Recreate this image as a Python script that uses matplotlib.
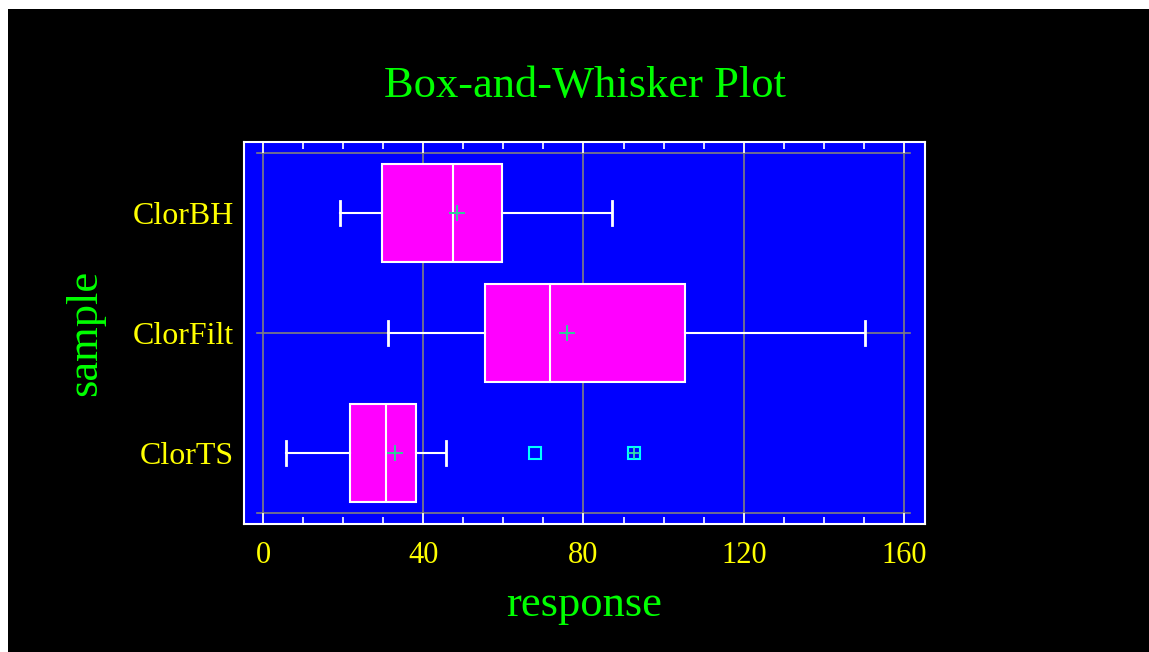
import matplotlib
matplotlib.use("Agg")
import matplotlib.pyplot as plt
import matplotlib.patches as patches
from matplotlib.ticker import MultipleLocator

# samples, bottom to top as drawn
samples = ["ClorTS", "ClorFilt", "ClorBH"]
whisker_lo = [5.7, 31.2, 19.1]
q1 = [21.7, 55.4, 29.7]
medians = [30.7, 71.6, 47.4]
q3 = [38.1, 105.3, 59.6]
whisker_hi = [45.7, 150.3, 87.1]
means = [33.0, 75.9, 48.3]
# outside points (ClorTS only)
outside_pts = [67.9]
far_outside_pts = [92.7]

serif = "Liberation Serif"

fig = plt.figure(figsize=(11.49, 6.52), dpi=100, facecolor="white")
# black background with the thin white margin top/left
fig.patches.append(patches.Rectangle((8 / 1149, 0), 1, 1 - 9 / 652, transform=fig.transFigure,
                                     facecolor="black", edgecolor="none", zorder=-10))

ax = fig.add_axes([244 / 1149, (652 - 524) / 652, (925 - 244) / 1149, (524 - 142) / 652])
ax.set_facecolor("#0000FF")

pos = [1, 2, 3]
stats = []
for i in range(len(samples)):
    stats.append(dict(label=samples[i], whislo=whisker_lo[i], q1=q1[i], med=medians[i],
                      q3=q3[i], whishi=whisker_hi[i], mean=means[i], fliers=[]))

ax.bxp(stats, positions=pos, widths=0.81, orientation="horizontal", patch_artist=True,
       showmeans=False, showfliers=False,
       boxprops=dict(facecolor="#FF00FF", edgecolor="white", linewidth=1.5),
       medianprops=dict(color="white", linewidth=1.5),
       whiskerprops=dict(color="white", linewidth=1.5),
       capprops=dict(color="white", linewidth=2.0),
       capwidths=0.2, zorder=3)

# mean markers
ax.plot(means, pos, linestyle="none", marker="+", markersize=11, markeredgewidth=1.4,
        color="#33CC99", zorder=5)

# outside points for ClorTS
ax.plot(outside_pts, [1] * len(outside_pts), linestyle="none", marker="s", markersize=8,
        markerfacecolor="none", markeredgecolor="#00FFFF", markeredgewidth=1.5, zorder=5)
ax.plot(far_outside_pts, [1] * len(far_outside_pts), linestyle="none", marker="s", markersize=8,
        markerfacecolor="none", markeredgecolor="#00FFFF", markeredgewidth=1.5, zorder=5)
ax.plot(far_outside_pts, [1] * len(far_outside_pts), linestyle="none", marker="+", markersize=9,
        markeredgewidth=1.3, color="#33DDAA", zorder=6)

ax.set_xlim(-4.75, 165.25)
ax.set_ylim(0.41, 3.59)

# grid lines (partial frame like the original)
for gx in [0, 40, 80, 120, 160]:
    ax.plot([gx, gx], [0.41, 3.59], color="#808080", linewidth=1.2, zorder=1)
for gy in [0.5, 2, 3.5]:
    ax.plot([-1.5, 161.5], [gy, gy], color="#808080", linewidth=1.2, zorder=1)

ax.set_yticks(pos)
ax.set_yticklabels(samples)
ax.xaxis.set_major_locator(MultipleLocator(40))
ax.xaxis.set_minor_locator(MultipleLocator(10))
ax.tick_params(axis="x", which="both", direction="in", top=True, bottom=True, color="white",
               width=1.2, labelcolor="#FFFF00", labelsize=22, pad=12)
ax.tick_params(axis="x", which="major", length=8)
ax.tick_params(axis="x", which="minor", length=5)
ax.tick_params(axis="y", length=0, labelcolor="#FFFF00", labelsize=23, pad=7)
for lab in ax.get_xticklabels() + ax.get_yticklabels():
    lab.set_fontfamily(serif)

for sp in ax.spines.values():
    sp.set_color("white")
    sp.set_linewidth(1.5)

ax.set_xlabel("response", fontsize=32, color="#00FF00", fontfamily=serif, labelpad=11)
ax.set_ylabel("sample", fontsize=32, color="#00FF00", fontfamily=serif, labelpad=20)
fig.text(585 / 1149, 1 - 86 / 652, "Box-and-Whisker Plot", fontsize=32, color="#00FF00",
         fontfamily=serif, ha="center", va="center")

fig.savefig("out.png", dpi=100, facecolor=fig.get_facecolor())
